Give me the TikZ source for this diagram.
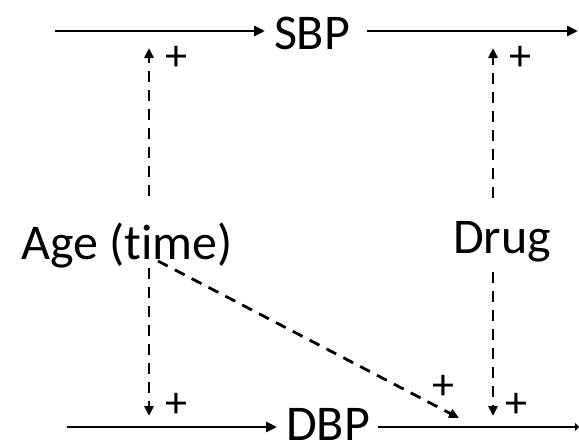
\documentclass[tikz,border=0pt]{standalone}
\usepackage{fontspec}
\setmainfont{Carlito}[RawFeature={-liga}]
\usetikzlibrary{arrows.meta}
\begin{document}
\begin{tikzpicture}[x=1pt,y=-1pt,
  lbl/.style={inner sep=0pt,font=\fontsize{50}{50}\selectfont},
  pluslbl/.style={inner sep=0pt,font=\fontsize{44}{44}\selectfont},
  solidarr/.style={line width=2.8pt,-{Triangle[length=11pt,width=10pt]}},
  dasharr/.style={line width=2.8pt,dash pattern=on 11pt off 8pt,-{Triangle[length=10pt,width=9pt]}}]
\useasboundingbox (0,0) rectangle (579,445);
% nodes
\node[lbl] (sbp) at (312,33) {SBP};
\node[lbl] (dbp) at (328,424) {DBP};
\node[lbl] (age) at (127,246) {Age (t\kern0pt ime)};
\node[lbl] (drug) at (502,242) {Drug};
% coordinates
\coordinate (tl) at (55,31);
\coordinate (tr) at (578,31);
\coordinate (bl) at (67,427);
\coordinate (br) at (579,427);
\coordinate (agetop) at (149,196);
\coordinate (agebot) at (149,268);
\coordinate (ageup) at (149,48);
\coordinate (agedown) at (149,416);
\coordinate (agediag) at (158,261);
\coordinate (diagend) at (459,418);
\coordinate (drugtop) at (493,198);
\coordinate (drugup) at (493,48);
\coordinate (drugdown) at (493,416);
\coordinate (drugbot) at (493,272);
\coordinate (sbpin) at (265,31);
\coordinate (sbpout) at (367,31);
\coordinate (dbpin) at (277,427);
\coordinate (dbpout) at (378,427);
% solid arrows
\draw[solidarr] (tl) -- (sbpin);
\draw[solidarr] (sbpout) -- (tr);
\draw[solidarr] (bl) -- (dbpin);
\draw[line width=2.8pt,-{Triangle[length=4pt,width=8pt]}] (dbpout) -- (br);
% dashed arrows
\draw[dasharr] (agetop) -- (ageup);
\draw[dasharr] (agebot) -- (agedown);
\draw[dasharr] (agediag) -- (diagend);
\draw[dasharr] (drugtop) -- (drugup);
\draw[dasharr] (drugbot) -- (drugdown);
% plus labels
\node[pluslbl] (p1) at (176,58) {+};
\node[pluslbl] (p2) at (520,58) {+};
\node[pluslbl] (p3) at (176,405) {+};
\node[pluslbl] (p4) at (443,387) {+};
\node[pluslbl] (p5) at (516,405) {+};
\end{tikzpicture}
\end{document}
